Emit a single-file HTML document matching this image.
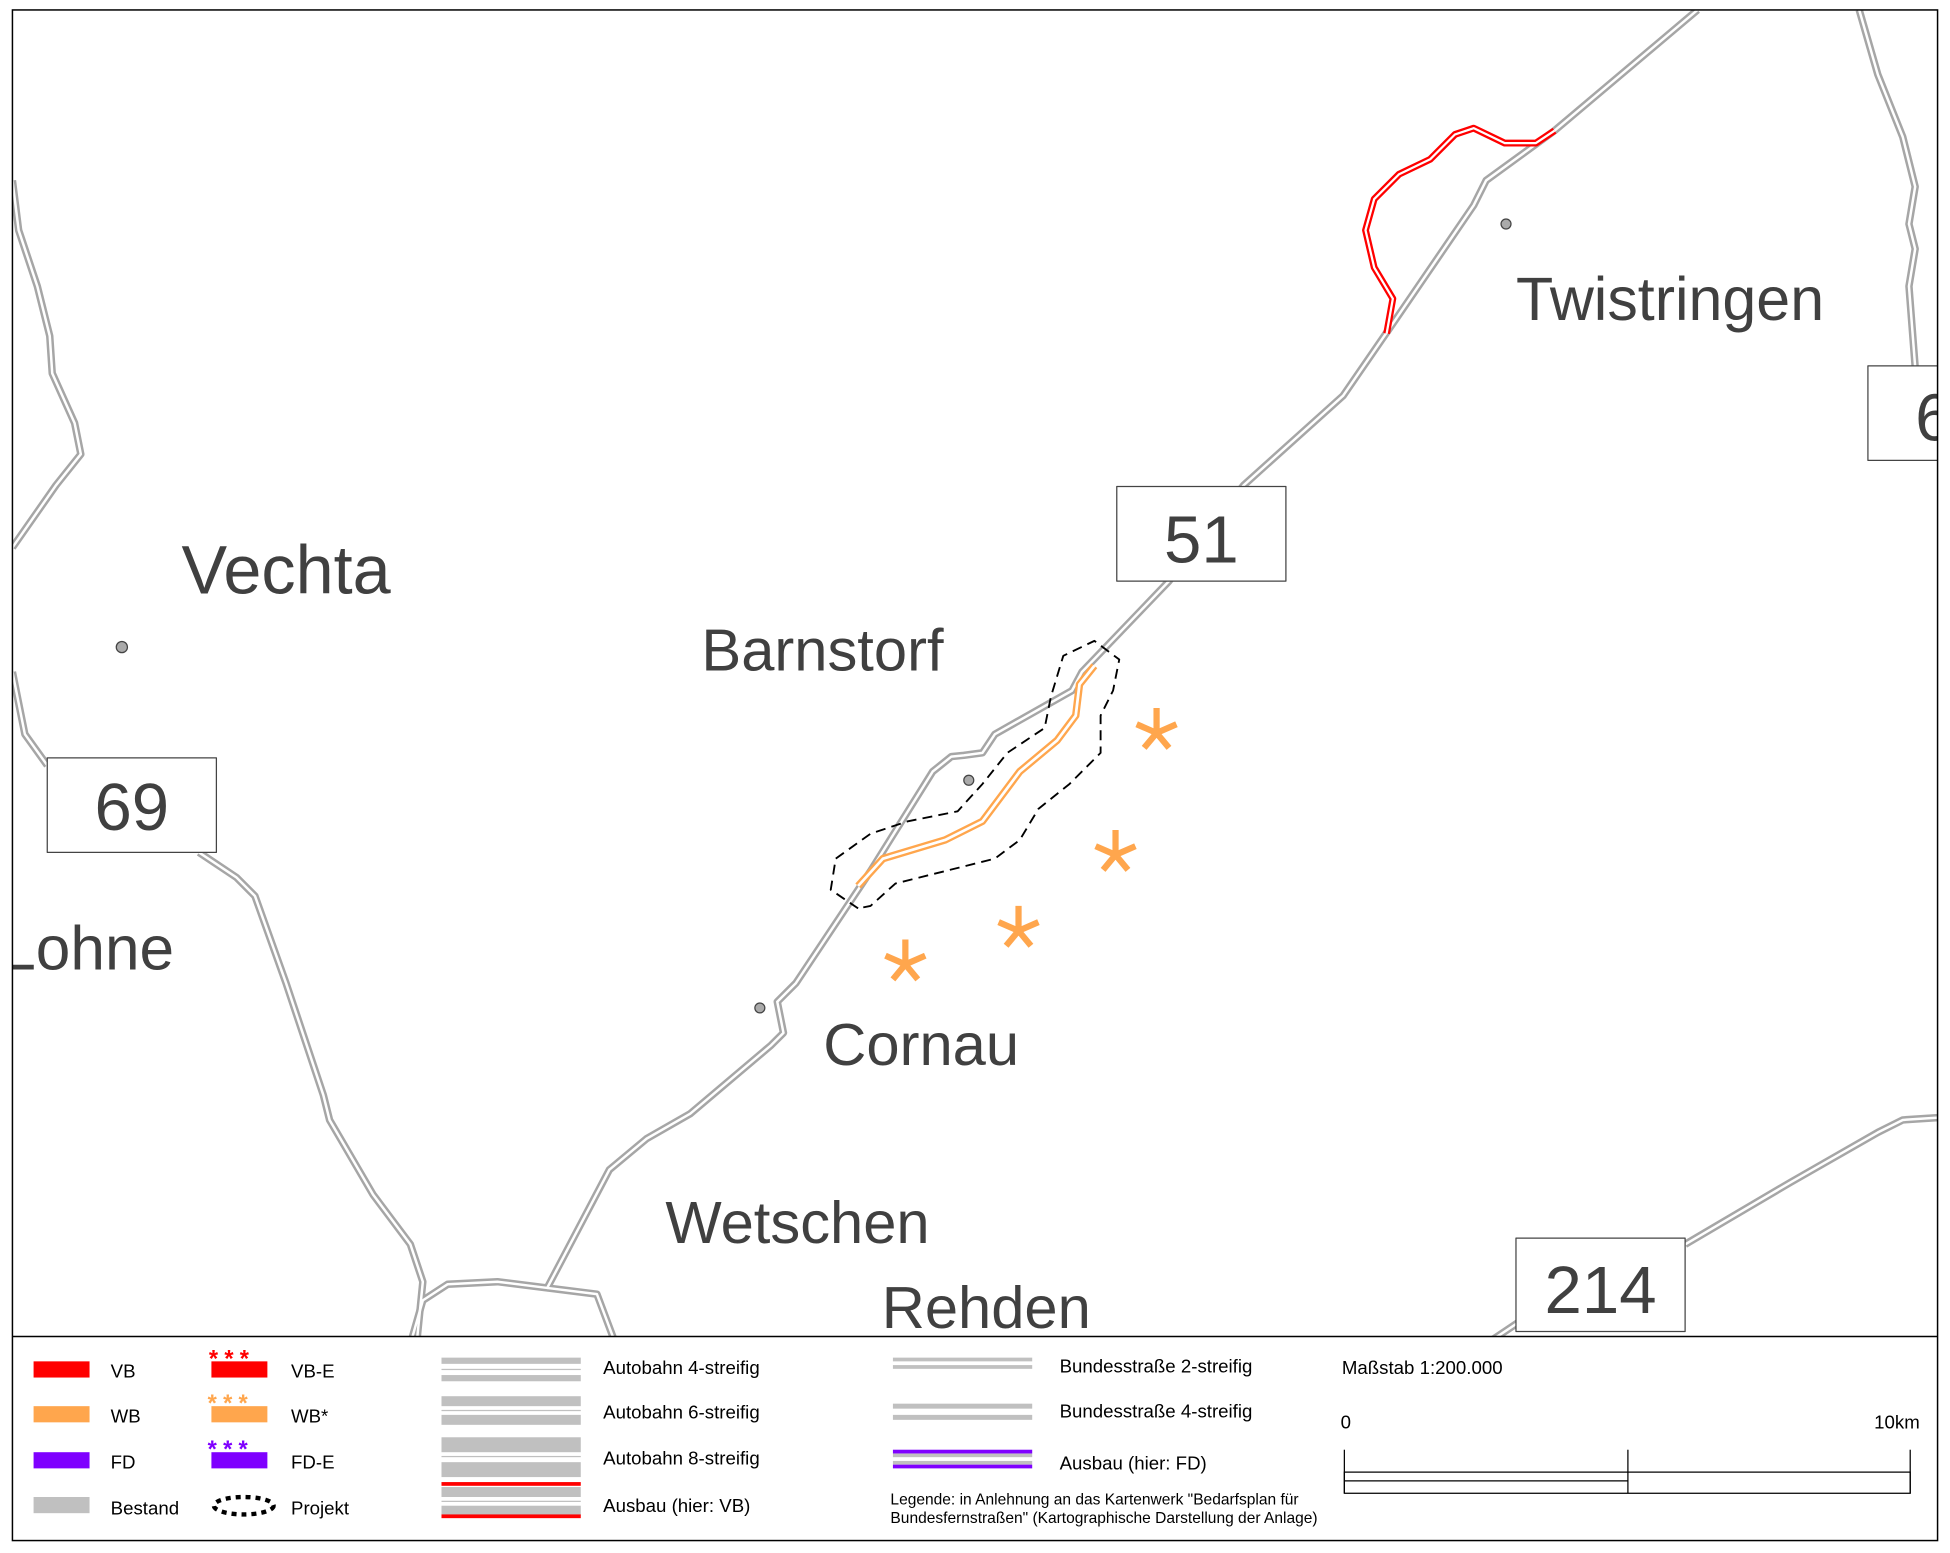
<!DOCTYPE html>
<html><head><meta charset="utf-8"><style>html,body{margin:0;padding:0;background:#fff}svg{display:block}</style></head><body>
<svg width="1950" height="1553" viewBox="0 0 1568 1248" preserveAspectRatio="none" xmlns="http://www.w3.org/2000/svg" font-family="Liberation Sans, Arial, sans-serif">
<rect x="0" y="0" width="1568" height="1248" fill="#fff"/>
<defs><clipPath id="m"><rect x="10" y="8" width="1548" height="1066"/></clipPath></defs>
<g clip-path="url(#m)" fill="none" stroke-linejoin="round">
<g stroke="#a6a6a6" stroke-width="6">
<path id="r1" d="M1365,8 L1250,105 L1195,145 L1185,165 L1120,260 L1080,318 L1000,390 L940,467 L870,540 L862,555 L800,590 L790,605 L775,607 L765,608 L750,620 L700,700 L640,790 L625,805 L630,830 L620,840 L555,895 L520,915 L490,940 L440,1035 L400,1030 L360,1032 L340,1045 L330,1080 M440,1035 L480,1040 L495,1080"/>
<path id="r2" d="M10,145 L15,185 L30,230 L40,270 L42,300 L60,340 L65,365 L45,390 L10,440 M10,540 L20,590 L38,615 M160,685 L190,705 L205,720 L230,790 L260,880 L265,900 L300,960 L330,1000 L340,1030 L335,1080"/>
<path id="r3" d="M1495,8 L1510,60 L1530,110 L1540,150 L1535,180 L1540,200 L1535,230 L1540,295 M1195,1080 L1222,1062 M1355,1000 L1440,950 L1510,910 L1530,900 L1560,898"/>
</g>
<g stroke="#fff" stroke-width="2">
<use href="#r1"/><use href="#r2"/><use href="#r3"/>
</g>
<path d="M1250,105 L1235,115 L1210,115 L1185,103 L1170,108 L1150,128 L1125,140 L1105,160 L1098,185 L1105,215 L1120,240 L1115,268" stroke="#ff0000" stroke-width="5.5"/>
<path d="M1250,105 L1235,115 L1210,115 L1185,103 L1170,108 L1150,128 L1125,140 L1105,160 L1098,185 L1105,215 L1120,240 L1115,268" stroke="#fff" stroke-width="1.8"/>
<path d="M880,535 L868,550 L865,575 L850,595 L820,620 L790,660 L760,675 L710,690 L690,712" stroke="#ffa64d" stroke-width="6"/>
<path d="M880,535 L868,550 L865,575 L850,595 L820,620 L790,660 L760,675 L710,690 L690,712" stroke="#fff" stroke-width="2.2"/>
<path d="M690,730 L668,715 L672,690 L700,670 L730,660 L770,652 L790,630 L810,605 L840,585 L845,560 L855,527 L880,515 L900,530 L895,555 L885,575 L885,605 L860,630 L835,650 L820,675 L800,690 L760,700 L720,710 L700,728 Z" stroke="#000" stroke-width="1.5" stroke-dasharray="8,5"/>
<g stroke="#ffa64d" stroke-width="5" stroke-linecap="butt">
<g transform="translate(930,587)"><path d="M0,-18 V2 M-16,-5 L0,2 L16,-5 M-10,14 L0,2 L10,14"/></g>
<g transform="translate(897,685)"><path d="M0,-18 V2 M-16,-5 L0,2 L16,-5 M-10,14 L0,2 L10,14"/></g>
<g transform="translate(819,746)"><path d="M0,-18 V2 M-16,-5 L0,2 L16,-5 M-10,14 L0,2 L10,14"/></g>
<g transform="translate(728,773)"><path d="M0,-18 V2 M-16,-5 L0,2 L16,-5 M-10,14 L0,2 L10,14"/></g>
</g>
<g fill="#aaa" stroke="#444" stroke-width="1">
<circle cx="98" cy="520" r="4.5"/><circle cx="1211" cy="180" r="4"/><circle cx="779" cy="627" r="4"/><circle cx="611" cy="810" r="4"/>
</g>
<g fill="#fff" stroke="#444" stroke-width="1">
<rect x="898" y="391" width="136" height="76"/>
<rect x="38" y="609" width="136" height="76"/>
<rect x="1502" y="294" width="70" height="76"/>
<rect x="1219" y="995" width="136" height="75"/>
</g>
<g fill="#404040" stroke="none">
<text x="966" y="452" font-size="54" text-anchor="middle">51</text>
<text x="106" y="667" font-size="54" text-anchor="middle">69</text>
<text x="1540" y="354" font-size="54">6</text>
<text x="1287" y="1055" font-size="54" text-anchor="middle">214</text>
<text x="146" y="477" font-size="55">Vechta</text>
<text x="564" y="539" font-size="48">Barnstorf</text>
<text x="1219" y="257" font-size="49">Twistringen</text>
<text x="1" y="779" font-size="50">Lohne</text>
<text x="662" y="856" font-size="48">Cornau</text>
<text x="535" y="999" font-size="48">Wetschen</text>
<text x="709" y="1067" font-size="48">Rehden</text>
</g>
</g>
<rect x="10" y="8" width="1548" height="1230" fill="none" stroke="#000" stroke-width="1.2"/>
<line x1="10" y1="1074" x2="1558" y2="1074" stroke="#000" stroke-width="1.2"/>
<g font-size="15" fill="#000">
<rect x="27" y="1094" width="45" height="13" fill="#f00"/><text x="89" y="1107">VB</text>
<rect x="27" y="1130" width="45" height="13" fill="#ffa64d"/><text x="89" y="1143">WB</text>
<rect x="27" y="1167" width="45" height="13" fill="#7f00ff"/><text x="89" y="1180">FD</text>
<rect x="27" y="1203" width="45" height="13" fill="#c0c0c0"/><text x="89" y="1217">Bestand</text>
<rect x="170" y="1094" width="45" height="13" fill="#f00"/><text x="168" y="1098" fill="#f00" font-size="19" font-weight="bold" letter-spacing="5">***</text><text x="234" y="1107">VB-E</text>
<rect x="170" y="1130" width="45" height="13" fill="#ffa64d"/><text x="167" y="1134" fill="#ffa64d" font-size="19" font-weight="bold" letter-spacing="5">***</text><text x="234" y="1143">WB*</text>
<rect x="170" y="1167" width="45" height="13" fill="#7f00ff"/><text x="167" y="1171" fill="#7f00ff" font-size="19" font-weight="bold" letter-spacing="5">***</text><text x="234" y="1180">FD-E</text>
<ellipse cx="196" cy="1210" rx="24" ry="7" fill="none" stroke="#000" stroke-width="3.5" stroke-dasharray="4,4"/><text x="234" y="1217">Projekt</text>
<g fill="#c0c0c0">
<rect x="355" y="1091" width="112" height="5"/><rect x="355" y="1100" width="112" height="1"/><rect x="355" y="1105" width="112" height="5"/>
<rect x="355" y="1122" width="112" height="8"/><rect x="355" y="1133" width="112" height="1"/><rect x="355" y="1137" width="112" height="8"/>
<rect x="355" y="1155" width="112" height="12"/><rect x="355" y="1170" width="112" height="1"/><rect x="355" y="1175" width="112" height="12"/>
<rect x="355" y="1195" width="112" height="8"/><rect x="355" y="1206" width="112" height="1"/><rect x="355" y="1210" width="112" height="8"/>
<rect x="718" y="1091" width="112" height="3"/><rect x="718" y="1097" width="112" height="3"/>
<rect x="718" y="1128" width="112" height="4"/><rect x="718" y="1137" width="112" height="4"/>
<rect x="718" y="1168" width="112" height="3"/><rect x="718" y="1174" width="112" height="3"/>
</g>
<rect x="355" y="1191" width="112" height="3" fill="#f00"/><rect x="355" y="1217" width="112" height="3" fill="#f00"/>
<rect x="718" y="1165" width="112" height="3" fill="#7f00ff"/><rect x="718" y="1177" width="112" height="3" fill="#7f00ff"/>
<text x="485" y="1104">Autobahn 4-streifig</text>
<text x="485" y="1140">Autobahn 6-streifig</text>
<text x="485" y="1177">Autobahn 8-streifig</text>
<text x="485" y="1215">Ausbau (hier: VB)</text>
<text x="852" y="1103">Bundesstraße 2-streifig</text>
<text x="852" y="1139">Bundesstraße 4-streifig</text>
<text x="852" y="1181">Ausbau (hier: FD)</text>
<text x="716" y="1209" font-size="12.5">Legende: in Anlehnung an das Kartenwerk "Bedarfsplan für</text>
<text x="716" y="1224" font-size="12.5">Bundesfernstraßen" (Kartographische Darstellung der Anlage)</text>
<text x="1079" y="1104">Maßstab 1:200.000</text>
<text x="1078" y="1148">0</text>
<text x="1507" y="1148">10km</text>
<g stroke="#000" stroke-width="1" fill="none">
<rect x="1081" y="1183" width="455" height="17"/>
<line x1="1081" y1="1190" x2="1309" y2="1190"/>
<line x1="1081" y1="1165" x2="1081" y2="1200"/>
<line x1="1309" y1="1165" x2="1309" y2="1200"/>
<line x1="1536" y1="1165" x2="1536" y2="1200"/>
</g>
</g>
</svg>
</body></html>
